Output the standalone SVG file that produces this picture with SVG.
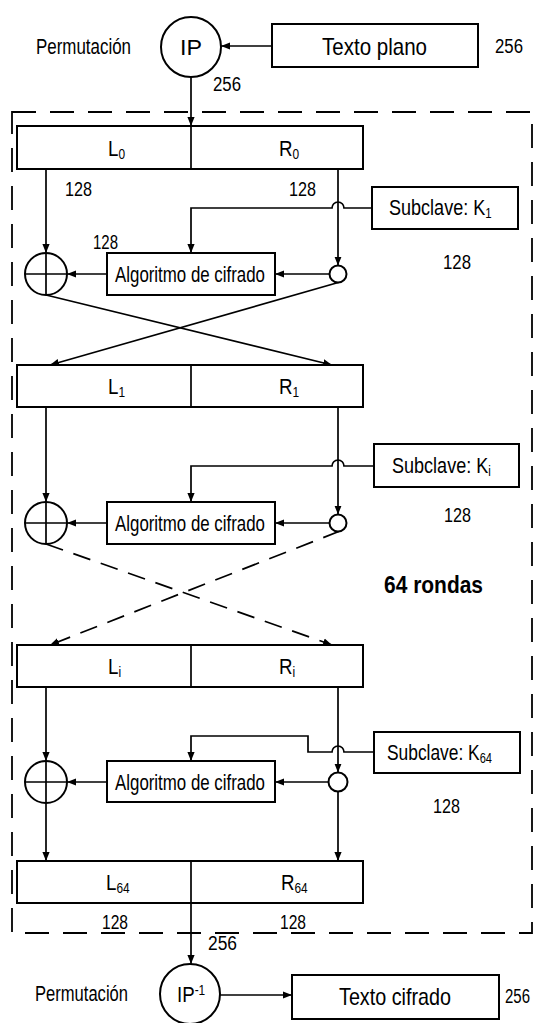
<svg xmlns="http://www.w3.org/2000/svg" width="539" height="1023" viewBox="0 0 539 1023">
<style>
text{font-family:"Liberation Sans",Arial,sans-serif;fill:#000}
.t{font-size:22px}
.n{font-size:20px}
.b{font-size:24px}
.sub{font-size:14px}
.box{fill:#fff;stroke:#000;stroke-width:2}
.ln{fill:none;stroke:#000;stroke-width:1.7}
.dl{fill:none;stroke:#000;stroke-width:1.7;stroke-dasharray:18 11}
.frame{fill:none;stroke:#000;stroke-width:1.8;stroke-dasharray:24 14}
</style>
<defs>
<marker id="ah" viewBox="0 0 10 10" refX="10" refY="5" markerWidth="9" markerHeight="9" orient="auto" markerUnits="userSpaceOnUse"><path d="M0,1 L10,5 L0,9 z" fill="#000"/></marker>
</defs>
<rect width="539" height="1023" fill="#fff"/>
<rect class="frame" x="12" y="112" width="520" height="821"/>

<g id="connectors">
<path class="ln" d="M272,46 H221" marker-end="url(#ah)"/>
<path class="ln" d="M191,77 V126" marker-end="url(#ah)"/>
<path class="ln" d="M46,169 V253" marker-end="url(#ah)"/>
<path class="ln" d="M338,169 V265.5" marker-end="url(#ah)"/>
<path class="ln" d="M372,208 H344 A6,6 0 0 0 332,208 H191 V253" marker-end="url(#ah)"/>
<path class="ln" d="M329.5,274 H275" marker-end="url(#ah)"/>
<path class="ln" d="M107,274 H67" marker-end="url(#ah)"/>
<path class="ln" d="M46,295 L332,365" marker-end="url(#ah)"/>
<path class="ln" d="M340,282 L50,365" marker-end="url(#ah)"/>
<path class="ln" d="M46,407 V502" marker-end="url(#ah)"/>
<path class="ln" d="M338,407 V514.5" marker-end="url(#ah)"/>
<path class="ln" d="M374,466 H344 A6,6 0 0 0 332,466 H191 V502" marker-end="url(#ah)"/>
<path class="ln" d="M329.5,523 H275" marker-end="url(#ah)"/>
<path class="ln" d="M107,523 H67" marker-end="url(#ah)"/>
<path class="dl" d="M46,544 L332,645" marker-end="url(#ah)"/>
<path class="dl" d="M340,531 L50,645" marker-end="url(#ah)"/>
<path class="ln" d="M46,687 V761" marker-end="url(#ah)"/>
<path class="ln" d="M338,687 V772.5" marker-end="url(#ah)"/>
<path class="ln" d="M374,752 H344 A6,6 0 0 0 332,752 H308 V736 H191 V761" marker-end="url(#ah)"/>
<path class="ln" d="M328.5,782 H275" marker-end="url(#ah)"/>
<path class="ln" d="M107,782 H67" marker-end="url(#ah)"/>
<path class="ln" d="M46,803 V861" marker-end="url(#ah)"/>
<path class="ln" d="M338,791.5 V861" marker-end="url(#ah)"/>
<path class="ln" d="M191,903 V964" marker-end="url(#ah)"/>
<path class="ln" d="M220,995 H292" marker-end="url(#ah)"/>
</g>

<g id="perm-label-top"><text class="t" x="36" y="54" textLength="95" lengthAdjust="spacingAndGlyphs">Permutación</text></g>
<g id="ip">
<circle class="box" cx="191" cy="47" r="30"/>
<text class="t" x="191" y="55" text-anchor="middle" textLength="22" lengthAdjust="spacingAndGlyphs">IP</text>
</g>
<g id="texto-plano">
<rect class="box" x="272" y="24" width="206" height="43"/>
<text class="b" x="322" y="55" textLength="105" lengthAdjust="spacingAndGlyphs">Texto plano</text>
</g>
<g id="labels-top">
<text class="n" x="495" y="53" textLength="28" lengthAdjust="spacingAndGlyphs">256</text>
<text class="n" x="213" y="91" textLength="28" lengthAdjust="spacingAndGlyphs">256</text>
</g>

<g id="lr0">
<rect class="box" x="17" y="126" width="346" height="43"/>
<line class="ln" x1="191" y1="126" x2="191" y2="169"/>
<text class="t" transform="translate(108,156) scale(0.85,1)">L<tspan class="sub" dy="3">0</tspan></text>
<text class="t" transform="translate(279,156) scale(0.85,1)">R<tspan class="sub" dy="3">0</tspan></text>
</g>
<g id="labels-r1">
<text class="n" x="65" y="196" textLength="27" lengthAdjust="spacingAndGlyphs">128</text>
<text class="n" x="289" y="196" textLength="27" lengthAdjust="spacingAndGlyphs">128</text>
<text class="n" x="93" y="249" textLength="25" lengthAdjust="spacingAndGlyphs">128</text>
<text class="n" x="443" y="269" textLength="28" lengthAdjust="spacingAndGlyphs">128</text>
</g>
<g id="k1">
<rect class="box" x="372" y="187" width="146" height="42"/>
<text class="t" transform="translate(389,215) scale(0.82,1)">Subclave: K<tspan class="sub" dy="3">1</tspan></text>
</g>
<g id="f1">
<rect class="box" x="107" y="253" width="168" height="42"/>
<text class="t" x="115" y="282" textLength="150" lengthAdjust="spacingAndGlyphs">Algoritmo de cifrado</text>
</g>
<g id="xor1">
<circle class="box" cx="46" cy="274" r="21"/>
<path class="ln" d="M25,274 H67 M46,253 V295"/>
</g>
<g id="split1"><circle class="box" cx="338" cy="274" r="8.5" stroke-width="1.7"/></g>

<g id="lr1">
<rect class="box" x="17" y="365" width="346" height="42"/>
<line class="ln" x1="191" y1="365" x2="191" y2="407"/>
<text class="t" transform="translate(108,394) scale(0.85,1)">L<tspan class="sub" dy="3">1</tspan></text>
<text class="t" transform="translate(279,394) scale(0.85,1)">R<tspan class="sub" dy="3">1</tspan></text>
</g>
<g id="ki">
<rect class="box" x="374" y="444" width="145" height="43"/>
<text class="t" transform="translate(392,473) scale(0.82,1)">Subclave: K<tspan class="sub" dy="3">i</tspan></text>
</g>
<g id="labels-r2"><text class="n" x="444" y="522" textLength="27" lengthAdjust="spacingAndGlyphs">128</text></g>
<g id="fi">
<rect class="box" x="107" y="502" width="168" height="42"/>
<text class="t" x="115" y="531" textLength="150" lengthAdjust="spacingAndGlyphs">Algoritmo de cifrado</text>
</g>
<g id="xor2">
<circle class="box" cx="46" cy="523" r="21"/>
<path class="ln" d="M25,523 H67 M46,502 V544"/>
</g>
<g id="split2"><circle class="box" cx="338" cy="523" r="8.5" stroke-width="1.7"/></g>
<g id="rondas"><text x="384" y="593" font-size="24" font-weight="bold" textLength="99" lengthAdjust="spacingAndGlyphs">64 rondas</text></g>

<g id="lri">
<rect class="box" x="17" y="645" width="346" height="42"/>
<line class="ln" x1="191" y1="645" x2="191" y2="687"/>
<text class="t" transform="translate(108,674) scale(0.85,1)">L<tspan class="sub" dy="3">i</tspan></text>
<text class="t" transform="translate(279,674) scale(0.85,1)">R<tspan class="sub" dy="3">i</tspan></text>
</g>
<g id="k64">
<rect class="box" x="374" y="732" width="146" height="41"/>
<text class="t" transform="translate(387,760) scale(0.79,1)">Subclave: K<tspan class="sub" dy="3">64</tspan></text>
</g>
<g id="labels-r3"><text class="n" x="433" y="813" textLength="27" lengthAdjust="spacingAndGlyphs">128</text></g>
<g id="f64">
<rect class="box" x="107" y="761" width="168" height="41"/>
<text class="t" x="115" y="790" textLength="150" lengthAdjust="spacingAndGlyphs">Algoritmo de cifrado</text>
</g>
<g id="xor3">
<circle class="box" cx="46" cy="782" r="21"/>
<path class="ln" d="M25,782 H67 M46,761 V803"/>
</g>
<g id="split3"><circle class="box" cx="338" cy="782" r="9.5" stroke-width="1.7"/></g>

<g id="lr64">
<rect class="box" x="17" y="861" width="346" height="42"/>
<line class="ln" x1="191" y1="861" x2="191" y2="903"/>
<text class="t" transform="translate(106,890) scale(0.85,1)">L<tspan class="sub" dy="3">64</tspan></text>
<text class="t" transform="translate(281,890) scale(0.85,1)">R<tspan class="sub" dy="3">64</tspan></text>
</g>
<g id="labels-bottom">
<text class="n" x="102" y="929" textLength="26" lengthAdjust="spacingAndGlyphs">128</text>
<text class="n" x="280" y="929" textLength="26" lengthAdjust="spacingAndGlyphs">128</text>
<text class="n" x="208" y="950" textLength="29" lengthAdjust="spacingAndGlyphs">256</text>
<text class="n" x="505" y="1003" textLength="25" lengthAdjust="spacingAndGlyphs">256</text>
</g>
<g id="perm-label-bottom"><text class="t" x="35" y="1001" textLength="93" lengthAdjust="spacingAndGlyphs">Permutación</text></g>
<g id="ip-inv">
<circle class="box" cx="190" cy="994" r="30"/>
<text class="t" transform="translate(177,1002) scale(0.85,1)">IP<tspan class="sub" dy="-7">-1</tspan></text>
</g>
<g id="texto-cifrado">
<rect class="box" x="292" y="975" width="207" height="44"/>
<text class="b" x="339" y="1005" textLength="112" lengthAdjust="spacingAndGlyphs">Texto cifrado</text>
</g>
</svg>
